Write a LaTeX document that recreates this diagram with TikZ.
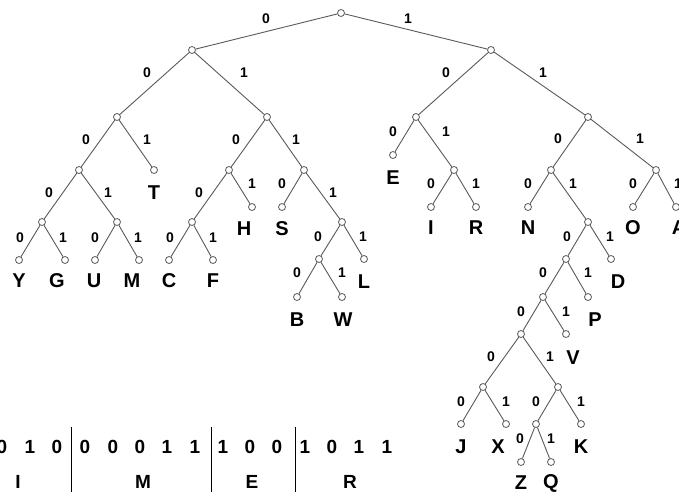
\documentclass[tikz,border=0pt]{standalone}
\usepackage{fontspec}
\setmainfont{Liberation Sans}
\definecolor{wire}{RGB}{90,90,90}
\tikzset{
  dot/.style={circle, draw=wire, fill=white, line width=0.8pt, inner sep=0pt, minimum size=7pt},
  edge/.style={draw=wire, line width=0.9pt},
  bit/.style={inner sep=0pt, font=\fontsize{14}{16}\selectfont\bfseries},
  sym/.style={inner sep=0pt, font=\fontsize{20}{24}\selectfont\bfseries},
  code/.style={inner sep=0pt, font=\fontsize{19}{22}\selectfont\bfseries},
  sep/.style={draw=black, line width=0.7pt}
}
% edge from parent #1 to child #2 with bit #3 printed at #4
\newcommand\tedge[4]{\draw[edge] (#1) -- (#2); \node[bit] (bit-#2) at (#4) {#3};}
\begin{document}
\begin{tikzpicture}[x=1pt, y=-1pt]
\clip (0,0) rectangle (679,492);
\fill[white] (0,0) rectangle (679,492);

% internal nodes and leaves
\foreach \n/\p in {r/{341,13}, n0/{192,50}, n1/{491,50},
  n00/{117,117}, n01/{267,117}, n10/{416,117}, n11/{588,117},
  n000/{79,170}, lT/{154,170}, n010/{229,170}, n011/{304,170},
  lE/{393,155}, n101/{454,170}, n110/{551,170}, n111/{656,170},
  n0000/{42,222}, n0001/{117,222}, n0100/{192,222}, lH/{252,207}, lS/{282,207},
  n0111/{342,222}, lI/{431,207}, lR/{476,207}, lN/{528,207}, n1101/{588,222},
  lO/{633,207}, lA/{676,207},
  lY/{19,260}, lG/{65,260}, lU/{95,260}, lM/{139,260}, lC/{169,260}, lF/{213,260},
  n01110/{319,259}, lL/{364,259}, lB/{297,297}, lW/{342,297},
  n11010/{566,259}, lD/{611,259}, n110100/{543,297}, lP/{588,297},
  n1101000/{521,334}, lV/{566,334},
  n11010000/{483,387}, n11010001/{558,387},
  lJ/{461,424}, lX/{506,424}, n110100010/{536,424}, lK/{581,424},
  lZ/{521,462}, lQ/{551,462}}
  \node[dot] (\n) at (\p) {};

% branches with their bits
\tedge{r}{n0}{0}{266,19}
\tedge{r}{n1}{1}{408,19}
\tedge{n0}{n00}{0}{147,73}
\tedge{n0}{n01}{1}{244,73}
\tedge{n1}{n10}{0}{446,73}
\tedge{n1}{n11}{1}{543,73}
\tedge{n00}{n000}{0}{86,140}
\tedge{n00}{lT}{1}{147,140}
\tedge{n01}{n010}{0}{236,140}
\tedge{n01}{n011}{1}{296,140}
\tedge{n10}{lE}{0}{393,132}
\tedge{n10}{n101}{1}{446,132}
\tedge{n11}{n110}{0}{558,139}
\tedge{n11}{n111}{1}{640,139}
\tedge{n000}{n0000}{0}{49,193}
\tedge{n000}{n0001}{1}{108,193}
\tedge{n010}{n0100}{0}{199,193}
\tedge{n010}{lH}{1}{252,184}
\tedge{n011}{lS}{0}{282,184}
\tedge{n011}{n0111}{1}{333,193}
\tedge{n101}{lI}{0}{431,184}
\tedge{n101}{lR}{1}{476,184}
\tedge{n110}{lN}{0}{528,184}
\tedge{n110}{n1101}{1}{573,184}
\tedge{n111}{lO}{0}{633,184}
\tedge{n111}{lA}{1}{678,184}
\tedge{n0000}{lY}{0}{20,238}
\tedge{n0000}{lG}{1}{63,238}
\tedge{n0001}{lU}{0}{95,238}
\tedge{n0001}{lM}{1}{138,238}
\tedge{n0100}{lC}{0}{170,238}
\tedge{n0100}{lF}{1}{213,238}
\tedge{n0111}{n01110}{0}{318,237}
\tedge{n0111}{lL}{1}{363,237}
\tedge{n01110}{lB}{0}{297,273}
\tedge{n01110}{lW}{1}{342,273}
\tedge{n1101}{n11010}{0}{567,237}
\tedge{n1101}{lD}{1}{610,237}
\tedge{n11010}{n110100}{0}{543,273}
\tedge{n11010}{lP}{1}{588,273}
\tedge{n110100}{n1101000}{0}{521,312}
\tedge{n110100}{lV}{1}{566,312}
\tedge{n1101000}{n11010000}{0}{491,357}
\tedge{n1101000}{n11010001}{1}{550,357}
\tedge{n11010000}{lJ}{0}{461,402}
\tedge{n11010000}{lX}{1}{506,402}
\tedge{n11010001}{n110100010}{0}{536,402}
\tedge{n11010001}{lK}{1}{581,402}
\tedge{n110100010}{lZ}{0}{520,439}
\tedge{n110100010}{lQ}{1}{551,439}

% leaf symbols
\foreach \s/\p in {T/{154,193}, E/{393,178}, H/{244,229}, S/{282,229},
  I/{431,228}, R/{476,228}, N/{528,228}, O/{633,228}, A/{679,228},
  Y/{19,281}, G/{57,281}, U/{94,281}, M/{132,281}, C/{169,281}, F/{213,281},
  L/{364,282}, B/{297,320}, W/{343,320}, D/{618,282}, P/{595,320}, V/{573,358},
  J/{461,447}, X/{498,447}, K/{581,447}, Z/{521,483}, Q/{551,483}}
  \node[sym] (sym-\s) at (\p) {\s};

% encoded message
\foreach \b/\x [count=\i] in {0/2, 1/30, 0/57, 0/85, 0/113, 0/140, 1/167, 1/195,
  1/223, 0/250, 0/277, 1/305, 0/332, 1/359, 1/387}
  \node[code] (digit-\i) at (\x,447) {\b};
\coordinate (s1t) at (71,427); \coordinate (s1b) at (71,492);
\coordinate (s2t) at (211,427); \coordinate (s2b) at (211,492);
\coordinate (s3t) at (295,427); \coordinate (s3b) at (295,492);
\draw[sep] (s1t) -- (s1b);
\draw[sep] (s2t) -- (s2b);
\draw[sep] (s3t) -- (s3b);
\foreach \s/\x in {I/18, M/143, E/252, R/350}
  \node[code] (word-\s) at (\x,482) {\s};
\end{tikzpicture}
\end{document}
